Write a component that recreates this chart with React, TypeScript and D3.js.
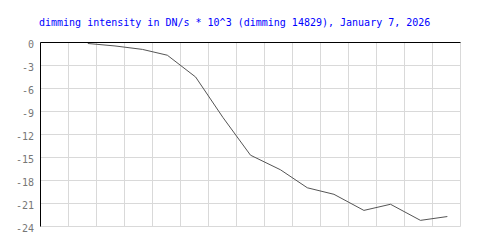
import React from "react";
import * as d3 from "d3";

const title = "dimming intensity in DN/s * 10^3 (dimming 14829), January 7, 2026";
const yTicks = [0, -3, -6, -9, -12, -15, -18, -21, -24];
const xGrid = [0, 1, 2, 3, 4, 5, 6, 7, 8, 9, 10, 11, 12, 13, 14, 15];
const times = [1.69, 2.66, 3.64, 4.53, 5.54, 6.52, 7.5, 8.57, 9.53, 10.48, 11.55, 12.5, 13.57, 14.53];
const values = [-0.13, -0.45, -0.9, -1.66, -4.5, -9.8, -14.7, -16.6, -18.95, -19.8, -21.9, -21.1, -23.2, -22.7];

export default function App() {
  const W = 500, H = 250;
  const x = d3.scaleLinear().domain([0, 15]).range([40.5, 460.5]);
  const y = d3.scaleLinear().domain([-24, 0]).range([226.5, 42.5]);
  const line = d3
    .line<number>()
    .x((_, i) => x(times[i]))
    .y((d) => y(d));
  const font = "'DejaVu Sans Mono', monospace";
  return (
    <svg
      width={W}
      height={H}
      style={{ position: "absolute", left: 0, top: 0, background: "#fff" }}
    >
      <rect x={0} y={0} width={W} height={H} fill="#fff" />
      {yTicks.map((t) => (
        <line key={"h" + t} x1={x(0)} x2={x(15)} y1={y(t)} y2={y(t)} stroke="#d9d9d9" strokeWidth={1} />
      ))}
      {xGrid.map((g) => (
        <line key={"v" + g} x1={x(g)} x2={x(g)} y1={y(0)} y2={y(-24)} stroke="#d9d9d9" strokeWidth={1} />
      ))}
      <line x1={x(0)} x2={x(15)} y1={y(0)} y2={y(0)} stroke="#000" strokeWidth={1} />
      <line x1={x(0)} x2={x(0)} y1={y(0)} y2={y(-24)} stroke="#000" strokeWidth={1} />
      <path d={line(values) || ""} fill="none" stroke="#555" strokeWidth={1} />
      {yTicks.map((t) => (
        <text
          key={"l" + t}
          x={34}
          y={y(t) + 5}
          textAnchor="end"
          fontFamily={font}
          fontSize={10}
          fill="#777"
        >
          {t === 0 ? "0" : "-" + Math.abs(t)}
        </text>
      ))}
      <text x={39} y={26} fontFamily={font} fontSize={10} fill="#0000ff">
        {title}
      </text>
    </svg>
  );
}
